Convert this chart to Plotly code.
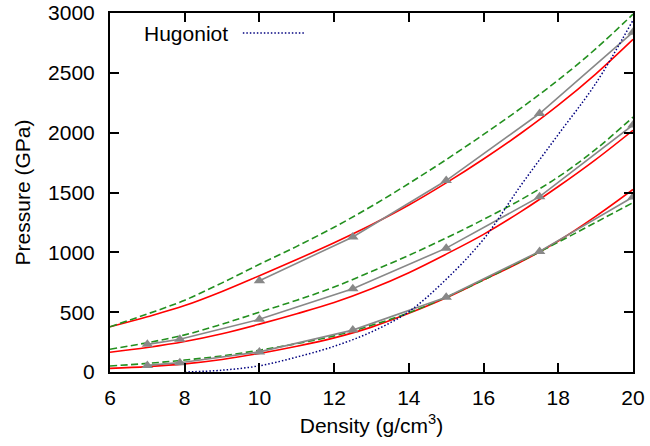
import plotly.graph_objects as go

# Smooth model curves (sampled at integer densities)
x_model = [6, 7, 8, 9, 10, 11, 12, 13, 14, 15, 16, 17, 18, 19, 20]
red_top = [378, 462, 555, 673, 805, 940, 1080, 1230, 1395, 1580, 1780, 1995, 2230, 2490, 2780]
red_mid = [165, 205, 255, 320, 400, 487, 580, 695, 830, 985, 1150, 1340, 1550, 1775, 2020]
red_bot = [30, 45, 68, 105, 155, 215, 285, 375, 490, 620, 770, 920, 1095, 1300, 1525]
green_top = [378, 485, 600, 745, 900, 1050, 1210, 1385, 1575, 1775, 1985, 2205, 2440, 2700, 2990]
green_mid = [190, 245, 310, 400, 500, 600, 710, 840, 975, 1120, 1275, 1440, 1630, 1860, 2130]
green_bot = [50, 72, 100, 135, 182, 237, 302, 390, 495, 625, 770, 925, 1085, 1250, 1415]

# Simulation points (gray triangles)
x_sim_top = [10, 12.5, 15, 17.5, 20]
p_sim_top = [763, 1128, 1600, 2160, 2840]
x_sim_mid = [7, 7.87, 10, 12.5, 15, 17.5, 20]
p_sim_mid = [231, 274, 440, 695, 1035, 1465, 2065]
x_sim_bot = [7, 7.87, 10, 12.5, 15, 17.5, 20]
p_sim_bot = [55, 78, 168, 350, 625, 1008, 1462]

# Hugoniot
x_hug = [8, 9, 10, 11, 12, 13, 14, 15, 16, 17, 18, 19, 20]
p_hug = [0, 15, 52, 125, 215, 335, 505, 775, 1110, 1560, 1985, 2410, 2940]

x_ticks = [6, 8, 10, 12, 14, 16, 18, 20]
y_ticks = [0, 500, 1000, 1500, 2000, 2500, 3000]

RED = "#ff0000"
GREEN = "#23901f"
GRAY = "#888888"
NAVY = "#00007f"
GREEN_DASH = "7px,3.5px"

fig = go.Figure()
for ys in (red_top, red_mid, red_bot):
    fig.add_trace(go.Scatter(x=x_model, y=ys, mode="lines", line=dict(color=RED, width=1.6, shape="spline"),
                             showlegend=False, hoverinfo="skip"))
for ys in (green_top, green_mid, green_bot):
    fig.add_trace(go.Scatter(x=x_model, y=ys, mode="lines",
                             line=dict(color=GREEN, width=1.6, dash=GREEN_DASH, shape="spline"),
                             showlegend=False, hoverinfo="skip"))
for xs, ys in ((x_sim_top, p_sim_top), (x_sim_mid, p_sim_mid), (x_sim_bot, p_sim_bot)):
    fig.add_trace(go.Scatter(x=xs, y=ys, mode="lines+markers", line=dict(color=GRAY, width=1.6),
                             marker=dict(symbol="triangle-up", size=10, color=GRAY),
                             showlegend=False, hoverinfo="skip"))
fig.add_trace(go.Scatter(x=x_hug, y=p_hug, mode="lines",
                         line=dict(color=NAVY, width=1.5, dash="1.5px,2px", shape="spline"),
                         showlegend=False, hoverinfo="skip"))

# gnuplot-style key: text left of the sample line
fig.add_annotation(x=0.229, y=0.944, xref="paper", yref="paper", text="Hugoniot", showarrow=False,
                   xanchor="right", yanchor="middle", font=dict(size=21, color="black"))
fig.add_shape(type="line", xref="paper", yref="paper", x0=0.254, x1=0.3725, y0=0.944, y1=0.944,
              line=dict(color=NAVY, width=1.5, dash="1.5px,2px"))

axis_common = dict(showline=True, linecolor="black", linewidth=2, mirror="ticks", ticks="inside",
                   ticklen=9, tickwidth=1.5, tickcolor="black", showgrid=False, zeroline=False,
                   tickfont=dict(size=21, color="black"))
fig.update_xaxes(range=[6, 20], tickvals=x_ticks, ticktext=[str(v) for v in x_ticks],
                 title=dict(text="Density (g/cm<sup>3</sup>)", font=dict(size=21, color="black"), standoff=10),
                 ticklabelstandoff=6, **axis_common)
fig.update_yaxes(range=[0, 3000], tickvals=y_ticks, ticktext=[str(v) for v in y_ticks],
                 title=dict(text="Pressure (GPa)", font=dict(size=21, color="black"), standoff=12),
                 ticklabelstandoff=9, **axis_common)

fig.update_layout(width=650, height=446, margin=dict(l=110, r=17, t=13, b=74, autoexpand=False),
                  plot_bgcolor="white", paper_bgcolor="white",
                  font=dict(family="Liberation Sans, Arial, sans-serif", size=21, color="black"),
                  showlegend=False)

fig.write_html("out.html")
